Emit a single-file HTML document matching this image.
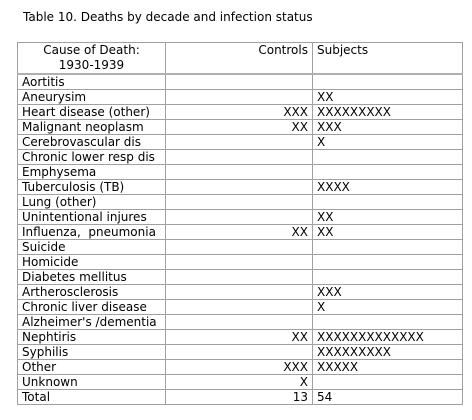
<!DOCTYPE html>
<html><head><meta charset="utf-8"><style>
html,body{margin:0;padding:0;background:#fff;width:472px;height:420px;overflow:hidden;font-family:"DejaVu Sans","Liberation Sans",sans-serif;font-size:12px;color:#000}
#title{position:absolute;left:23px;top:10px;white-space:nowrap}
table{position:absolute;left:17px;top:42px;border-collapse:collapse;table-layout:fixed;width:445px}
td{border:1px solid #a0a0a0;height:14px;padding:0 4px;line-height:14px;white-space:nowrap;overflow:hidden}
tr.hdr td{height:29px;vertical-align:top;border-bottom:2px solid #b0b0b0}
.r{text-align:right}
</style></head><body>
<div id="title">Table 10. Deaths by decade and infection status</div>
<table>
<colgroup><col style="width:148px"><col style="width:147px"><col style="width:150px"></colgroup>
<tr class="hdr"><td style="text-align:center;line-height:15px">Cause of Death:<br>1930-1939</td><td class="r" style="line-height:15px">Controls</td><td style="line-height:15px">Subjects</td></tr>
<tr><td>Aortitis</td><td class="r"></td><td></td></tr>
<tr><td>Aneurysim</td><td class="r"></td><td>XX</td></tr>
<tr><td>Heart disease (other)</td><td class="r">XXX</td><td>XXXXXXXXX</td></tr>
<tr><td>Malignant neoplasm</td><td class="r">XX</td><td>XXX</td></tr>
<tr><td>Cerebrovascular dis</td><td class="r"></td><td>X</td></tr>
<tr><td>Chronic lower resp dis</td><td class="r"></td><td></td></tr>
<tr><td>Emphysema</td><td class="r"></td><td></td></tr>
<tr><td>Tuberculosis (TB)</td><td class="r"></td><td>XXXX</td></tr>
<tr><td>Lung (other)</td><td class="r"></td><td></td></tr>
<tr><td>Unintentional injures</td><td class="r"></td><td>XX</td></tr>
<tr><td>Influenza,&nbsp; pneumonia</td><td class="r">XX</td><td>XX</td></tr>
<tr><td>Suicide</td><td class="r"></td><td></td></tr>
<tr><td>Homicide</td><td class="r"></td><td></td></tr>
<tr><td>Diabetes mellitus</td><td class="r"></td><td></td></tr>
<tr><td>Artherosclerosis</td><td class="r"></td><td>XXX</td></tr>
<tr><td>Chronic liver disease</td><td class="r"></td><td>X</td></tr>
<tr><td>Alzheimer's /dementia</td><td class="r"></td><td></td></tr>
<tr><td>Nephtiris</td><td class="r">XX</td><td>XXXXXXXXXXXXX</td></tr>
<tr><td>Syphilis</td><td class="r"></td><td>XXXXXXXXX</td></tr>
<tr><td>Other</td><td class="r">XXX</td><td>XXXXX</td></tr>
<tr><td>Unknown</td><td class="r">X</td><td></td></tr>
<tr><td>Total</td><td class="r">13</td><td>54</td></tr>
</table>
</body></html>
